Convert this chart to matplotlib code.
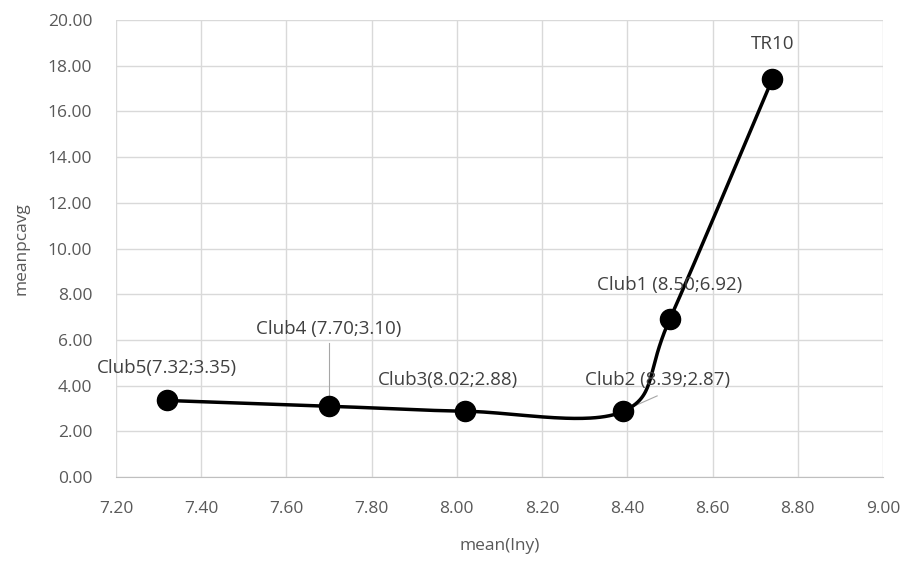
import matplotlib.pyplot as plt
import numpy as np

# data
names = ["Club5", "Club4", "Club3", "Club2", "Club1", "TR10"]
lny = [7.32, 7.70, 8.02, 8.39, 8.50, 8.74]
pcavg = [3.35, 3.10, 2.88, 2.87, 6.92, 17.40]
labels = ["Club5(7.32;3.35)", "Club4 (7.70;3.10)", "Club3(8.02;2.88)",
          "Club2 (8.39;2.87)", "Club1 (8.50;6.92)", "TR10"]
# label offsets in data units (dx, dy) from each point
label_off = [(0.0, 1.42), (0.0, 3.38), (-0.04, 1.36), (0.08, 1.37), (0.0, 1.5), (0.0, 1.53)]

xticks = np.arange(7.2, 9.01, 0.2)
yticks = np.arange(0, 20.01, 2)

plt.rcParams['font.family'] = ['Open Sans', 'DejaVu Sans']


def smooth(xs, ys, n=60):
    # Excel-like smoothed line: cubic bezier with catmull-rom control points
    P = np.column_stack([xs, ys])
    out = []
    for i in range(len(P) - 1):
        p0 = P[i - 1] if i > 0 else P[i]
        p1, p2 = P[i], P[i + 1]
        p3 = P[i + 2] if i + 2 < len(P) else P[i + 1]
        c1 = p1 + (p2 - p0) / 6
        c2 = p2 - (p3 - p1) / 6
        t = np.linspace(0, 1, n)[:, None]
        seg = ((1 - t) ** 3) * p1 + 3 * ((1 - t) ** 2) * t * c1 + 3 * (1 - t) * t ** 2 * c2 + t ** 3 * p2
        out.append(seg)
    out = np.vstack(out)
    return out[:, 0], out[:, 1]


fig = plt.figure(figsize=(9.06, 5.62), dpi=100)
ax = fig.add_axes([0.128, 0.1512, 0.8466, 0.8132])

sx, sy = smooth(lny, pcavg)
ax.plot(sx, sy, color='black', lw=2.5, zorder=3)
ax.plot(lny, pcavg, 'o', color='black', ms=14.5, zorder=4)

for i, lab in enumerate(labels):
    dx, dy = label_off[i]
    ax.text(lny[i] + dx, pcavg[i] + dy, lab, ha='center', va='center',
            fontsize=13.5, color='#404040', zorder=5)

# leader lines
ax.plot([lny[1], lny[1]], [pcavg[1] + 0.25, pcavg[1] + 2.75], color='#a6a6a6', lw=0.8, zorder=2)
ax.plot([lny[3] + 0.005, lny[3] + 0.08], [pcavg[3] + 0.06, pcavg[3] + 0.68], color='#a6a6a6', lw=0.8, zorder=2)

ax.set_xlim(7.2, 9.0)
ax.set_ylim(0, 20)
ax.set_xticks(xticks)
ax.set_yticks(yticks)
ax.set_xticklabels([f"{v:.2f}" for v in xticks])
ax.set_yticklabels([f"{v:.2f}" for v in yticks])
ax.grid(True, color='#d9d9d9', lw=1)
ax.set_axisbelow(True)
for s in ['top', 'right', 'left']:
    ax.spines[s].set_visible(False)
ax.spines['bottom'].set_color('#bfbfbf')
ax.tick_params(length=0, labelsize=12.5, colors='#595959')
ax.tick_params(axis='x', pad=17)
ax.tick_params(axis='y', pad=17)
ax.set_xlabel("mean(lny)", fontsize=12.5, color='#595959')
ax.set_ylabel("meanpcavg", fontsize=12.5, color='#595959')
ax.xaxis.set_label_coords(0.5, -0.133)
ax.yaxis.set_label_coords(-0.113, 0.5)

fig.savefig("out.png", dpi=100)
